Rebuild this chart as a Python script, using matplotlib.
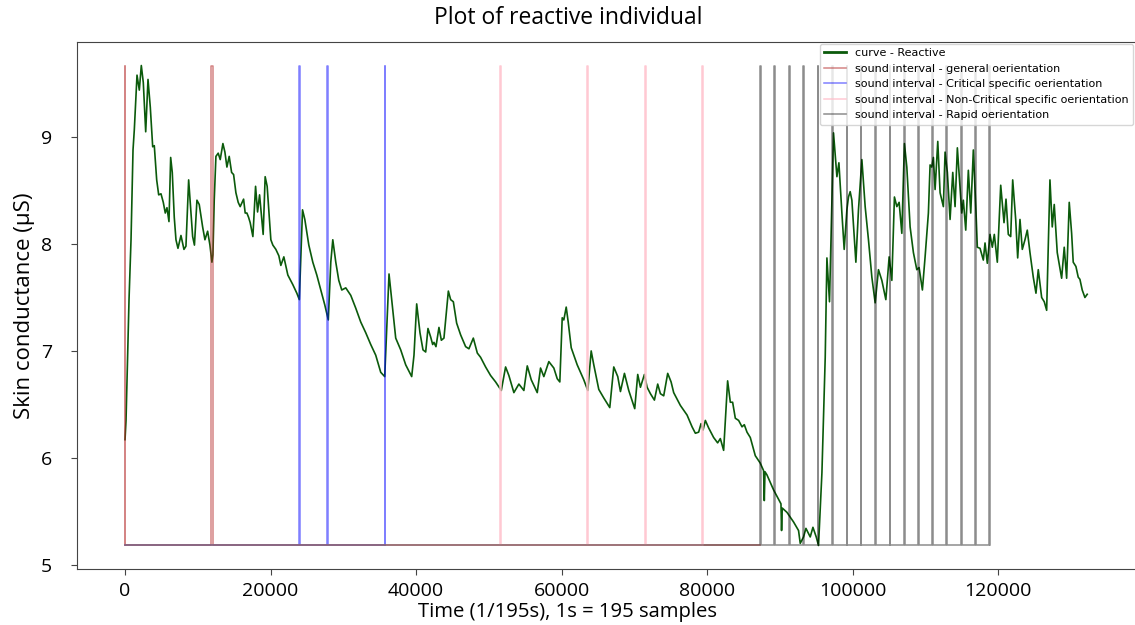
import matplotlib.pyplot as plt
import numpy as np

# skin conductance curve (sample index, value in uS)
samples = [0, 137, 275, 549, 824, 1098, 1277, 1647, 1963, 2238,
           2512, 2842, 3157, 3473, 3802, 4022, 4351, 4626, 4942, 5257,
           5532, 5765, 6040, 6273, 6493, 6767, 7001, 7275, 7688, 8099,
           8373, 8744, 9293, 9540, 9883, 10199, 10666, 10982, 11352, 11668,
           11942, 12080, 12258, 12492, 12807, 13082, 13452, 13727, 14002, 14317,
           14647, 14921, 15237, 15553, 15827, 16294, 16514, 16747, 16980, 17200,
           17571, 17941, 18216, 18490, 18984, 19259, 19533, 20041, 20316, 20728,
           21140, 21414, 21826, 22375, 23061, 23610, 23954, 24393, 24709, 25258,
           25807, 26356, 26905, 27454, 27935, 28278, 28553, 28965, 29376, 29788,
           30337, 31023, 31709, 32396, 33082, 33768, 34455, 35141, 35690, 35965,
           36281, 36514, 37200, 37887, 38573, 39396, 39712, 40083, 40536, 40948,
           41318, 41634, 42005, 42279, 42458, 42732, 43144, 43473, 43830, 44434,
           44750, 45120, 45574, 46123, 46809, 47262, 47866, 48415, 48868, 49554,
           50241, 50927, 51709, 52300, 52753, 53439, 54126, 54812, 55279, 55828,
           56651, 57104, 57557, 58244, 58930, 59397, 59754, 60083, 60303, 60632,
           60907, 61319, 62142, 63048, 63598, 64064, 64421, 65108, 65794, 66618,
           67167, 67716, 68086, 68635, 69226, 70049, 70461, 70831, 71380, 71751,
           72204, 72753, 73206, 73577, 74030, 74579, 75045, 75402, 76322, 77241,
           77928, 78381, 78834, 79163, 79438, 79753, 80206, 80893, 81442, 81813,
           82266, 82815, 83186, 83501, 83872, 84325, 84792, 85107, 85478, 85931,
           86617, 87304, 87757, 87853, 87949, 88223, 89129, 90145, 90227, 90323,
           90968, 91874, 92560, 92794, 93247, 93577, 94167, 94538, 94991, 95307,
           95774, 96227, 96460, 96817, 97366, 97833, 98107, 98519, 98834, 99205,
           99425, 99658, 99891, 100440, 100797, 101264, 101717, 102170, 102637, 103090,
           103543, 104009, 104559, 105012, 105382, 105739, 106069, 106384, 106755, 107112,
           107441, 107894, 108347, 108814, 109129, 109582, 109953, 110406, 110639, 110873,
           111092, 111326, 111696, 112012, 112465, 112698, 113014, 113385, 113755, 114071,
           114387, 114991, 115210, 115540, 115897, 116226, 116583, 116954, 117132, 117503,
           117956, 118189, 118505, 118876, 119191, 119466, 119878, 120345, 120798, 121072,
           121388, 121717, 121992, 122404, 122678, 122994, 123310, 123680, 123996, 124367,
           124820, 125190, 125506, 125973, 126330, 126659, 127112, 127428, 127702, 128114,
           128718, 129075, 129405, 129762, 130091, 130311, 130682, 130997, 131230, 131546,
           131917, 132233]
conductance = [6.17, 6.35, 6.73, 7.48, 8.04, 8.88, 9.07, 9.58, 9.44, 9.67,
               9.51, 9.05, 9.54, 9.28, 8.91, 8.92, 8.60, 8.46, 8.47, 8.39,
               8.29, 8.34, 8.21, 8.81, 8.67, 8.25, 8.04, 7.96, 8.08, 7.95,
               7.98, 8.60, 8.07, 7.99, 8.41, 8.37, 8.16, 8.04, 8.12, 7.99,
               7.83, 7.90, 8.41, 8.82, 8.85, 8.79, 8.94, 8.86, 8.72, 8.82,
               8.67, 8.65, 8.48, 8.39, 8.35, 8.42, 8.29, 8.29, 8.25, 8.20,
               8.07, 8.54, 8.30, 8.46, 8.09, 8.63, 8.54, 8.04, 7.99, 7.95,
               7.89, 7.80, 7.88, 7.71, 7.62, 7.54, 7.48, 8.32, 8.23, 7.99,
               7.83, 7.71, 7.57, 7.43, 7.29, 7.83, 8.04, 7.83, 7.66, 7.57,
               7.59, 7.52, 7.40, 7.27, 7.17, 7.06, 6.96, 6.80, 6.76, 7.20,
               7.72, 7.57, 7.12, 7.01, 6.87, 6.76, 6.96, 7.44, 7.17, 7.01,
               6.99, 7.21, 7.13, 7.06, 7.08, 7.04, 7.22, 7.10, 7.12, 7.56,
               7.48, 7.46, 7.26, 7.15, 7.04, 7.02, 7.12, 6.98, 6.94, 6.85,
               6.77, 6.71, 6.63, 6.85, 6.77, 6.61, 6.69, 6.63, 6.86, 6.73,
               6.61, 6.84, 6.76, 6.90, 6.84, 6.74, 6.71, 7.31, 7.29, 7.41,
               7.27, 7.03, 6.87, 6.73, 6.63, 7.00, 6.87, 6.64, 6.56, 6.47,
               6.85, 6.76, 6.62, 6.79, 6.63, 6.46, 6.78, 6.66, 6.78, 6.66,
               6.60, 6.54, 6.69, 6.60, 6.58, 6.79, 6.71, 6.61, 6.49, 6.40,
               6.29, 6.23, 6.24, 6.32, 6.26, 6.35, 6.28, 6.19, 6.14, 6.18,
               6.07, 6.72, 6.52, 6.52, 6.37, 6.35, 6.29, 6.31, 6.24, 6.19,
               6.02, 5.95, 5.88, 5.60, 5.87, 5.84, 5.70, 5.57, 5.32, 5.53,
               5.49, 5.40, 5.32, 5.20, 5.26, 5.34, 5.26, 5.35, 5.26, 5.18,
               5.86, 6.94, 7.87, 7.46, 9.04, 8.63, 8.76, 8.29, 7.95, 8.32,
               8.44, 8.49, 8.41, 7.83, 8.32, 8.79, 8.35, 8.04, 7.69, 7.45,
               7.76, 7.66, 7.48, 7.88, 7.66, 8.44, 8.35, 8.39, 8.10, 8.94,
               8.72, 8.16, 7.92, 7.76, 7.78, 7.57, 7.88, 8.29, 8.74, 8.72,
               8.81, 8.51, 8.96, 8.48, 8.35, 8.86, 8.67, 8.23, 8.67, 8.35,
               8.90, 8.29, 8.41, 8.13, 8.69, 8.29, 8.88, 8.29, 7.97, 7.96,
               7.85, 8.01, 7.82, 8.09, 7.97, 8.09, 7.83, 8.55, 8.20, 8.42,
               8.09, 8.07, 8.60, 8.23, 7.87, 8.23, 7.95, 8.04, 8.13, 7.92,
               7.69, 7.54, 7.76, 7.50, 7.46, 7.38, 8.60, 8.16, 8.37, 7.92,
               7.68, 7.97, 7.68, 8.39, 8.10, 7.83, 7.79, 7.69, 7.67, 7.57,
               7.50, 7.53]

# sound intervals (start, end sample) per category, and where each series stops
general_start = [0, 11850]
general_end = [60, 12050]
general_stop = 87250
critical_start = [23870, 27820, 35690]
critical_end = [23980, 27930, 35770]
critical_stop = 35770
noncrit_start = [51560, 63510, 71430, 79340]
noncrit_end = [51670, 63620, 71540, 79450]
noncrit_stop = 79450
rapid_start = [87260, 89230, 91250, 93210, 95190, 97190, 99170, 101090, 103050,
               105070, 107030, 109000, 110970, 112890, 114900, 116880, 118740]
rapid_end = [87360, 89330, 91350, 93310, 95290, 97290, 99270, 101190, 103150,
             105170, 107130, 109100, 111070, 112990, 115000, 116980, 118840]
rapid_stop = 118840

lo = min(conductance)
hi = max(conductance)


def pulses(starts, ends, stop):
    xs, ys = [0], [lo]
    for s, e in zip(starts, ends):
        xs += [s, s, e, e]
        ys += [lo, hi, hi, lo]
    xs.append(stop)
    ys.append(lo)
    return xs, ys


fig = plt.figure(figsize=(11.35, 6.25), dpi=100)
ax = fig.add_axes([77 / 1135, 56 / 625, 1 - 77 / 1135, 527 / 625])

h0, = ax.plot(samples, conductance, color='#0b5a0b', lw=1.2, label='curve - Reactive')
x, y = pulses(general_start, general_end, general_stop)
h1, = ax.plot(x, y, color='firebrick', alpha=0.55, lw=1.1,
              label='sound interval - general oerientation')
x, y = pulses(critical_start, critical_end, critical_stop)
h2, = ax.plot(x, y, color='blue', alpha=0.5, lw=1.1,
              label='sound interval - Critical specific oerientation')
x, y = pulses(noncrit_start, noncrit_end, noncrit_stop)
h3, = ax.plot(x, y, color='pink', alpha=0.85, lw=1.1,
              label='sound interval - Non-Critical specific oerientation')
x, y = pulses(rapid_start, rapid_end, rapid_stop)
h4, = ax.plot(x, y, color='black', alpha=0.45, lw=1.1,
              label='sound interval - Rapid oerientation')

ax.set_xlim(-6600, 138800)
ax.set_ylim(4.96, 9.89)
ax.set_xticks([0, 20000, 40000, 60000, 80000, 100000, 120000])
ax.set_yticks([5, 6, 7, 8, 9])
ax.spines['right'].set_visible(False)
for sp in ax.spines.values():
    sp.set_color('#444444')
ax.tick_params(labelsize=14, length=4, color='#444444')
ax.tick_params(axis='y', pad=14)
ax.tick_params(axis='x', pad=5)
for lab in ax.get_xticklabels() + ax.get_yticklabels():
    lab.set_family('Open Sans')

ax.set_xlabel('Time (1/195s), 1s = 195 samples', family='Open Sans', fontsize=14.6)
ax.xaxis.set_label_coords((568 - 77) / (1135 - 77), -0.062)
ax.set_ylabel('Skin conductance (µS)', family='Open Sans', fontsize=16)
ax.yaxis.set_label_coords(-0.04, 0.5)
fig.text(568 / 1135, 1 - 18 / 625, 'Plot of reactive individual', family='Open Sans',
         fontsize=16.5, ha='center', va='center')

leg = ax.legend(handles=[h0, h1, h2, h3, h4], loc='upper right',
                borderaxespad=0.15, prop={'family': 'DejaVu Sans', 'size': 8})
leg.get_lines()[0].set_linewidth(2)

fig.savefig('out.png', dpi=100)
